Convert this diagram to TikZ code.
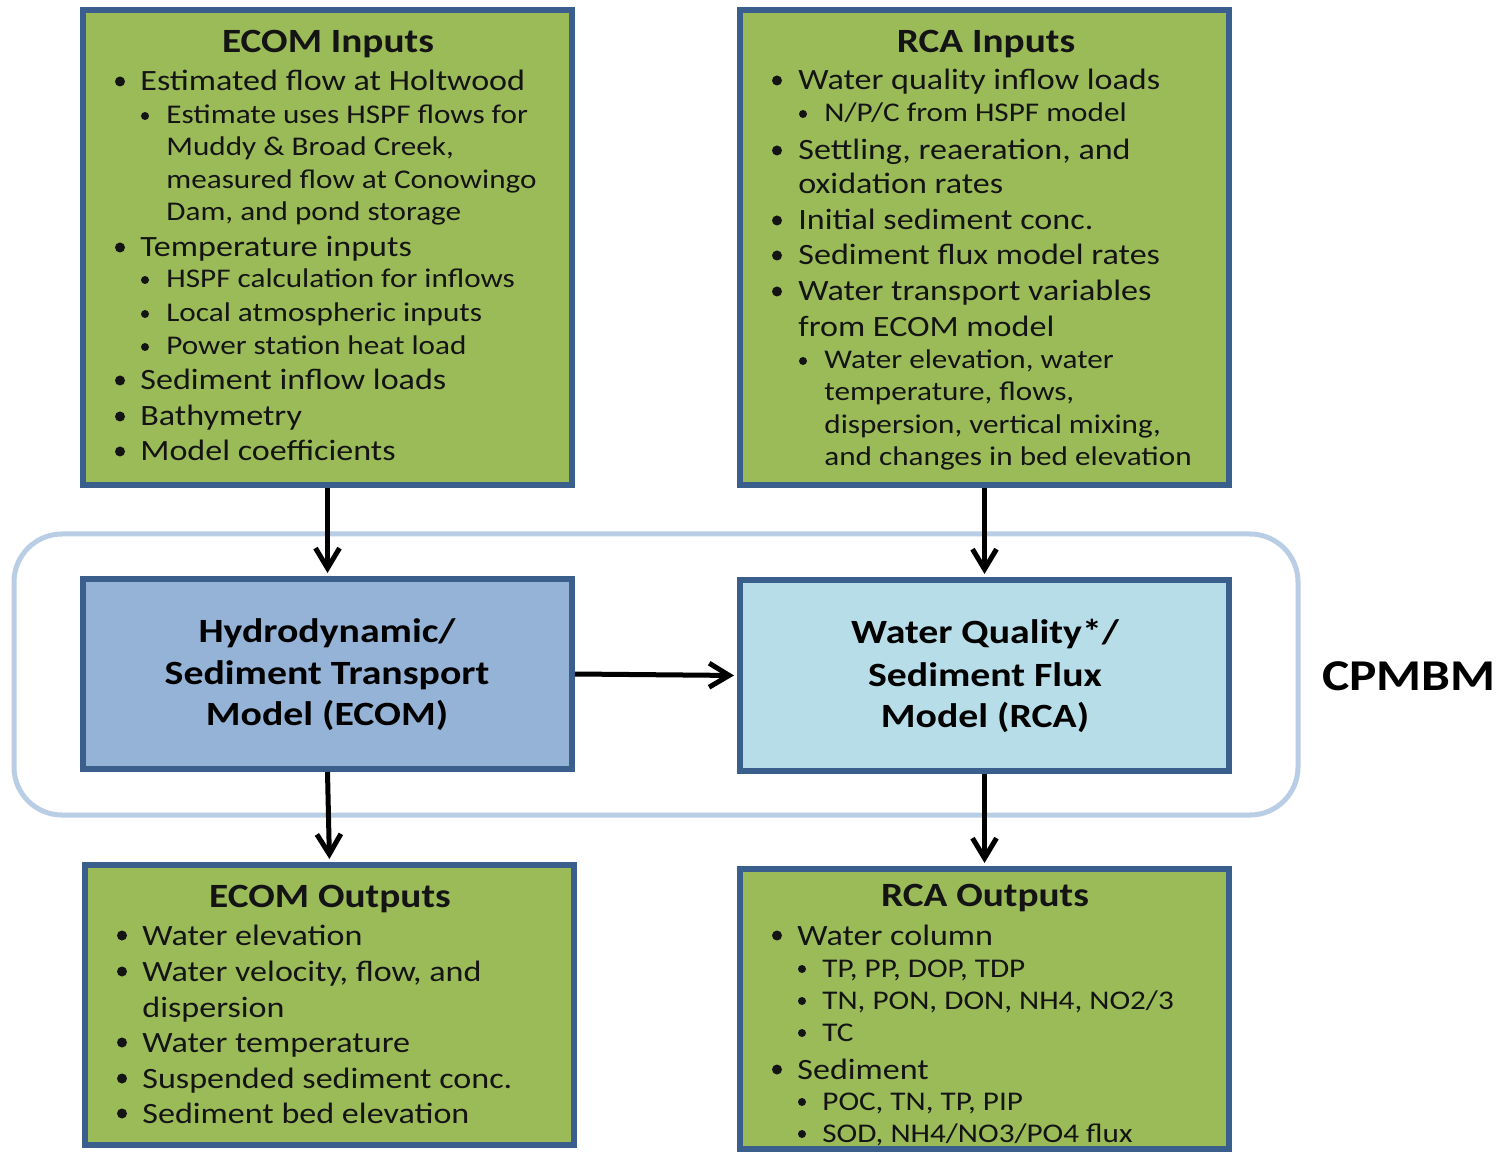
\documentclass[tikz,border=0pt]{standalone}
\usepackage{fontspec}
\setmainfont{Carlito}
\newfontfamily\boxfont[FakeStretch=1.155]{Carlito}
\newfontfamily\modelfont[FakeStretch=1.17]{Carlito}
\usetikzlibrary{arrows.meta}

\definecolor{boxgreen}{HTML}{9BBB59}
\definecolor{boxedge}{HTML}{3A5F8C}
\definecolor{hydrofill}{HTML}{95B3D7}
\definecolor{wqfill}{HTML}{B7DDE8}
\definecolor{ringblue}{HTML}{B9CDE5}
\definecolor{ink}{HTML}{141414}

% box by path corners (pixel units): name, style, x1, y1, x2, y2
\newcommand\pbox[6]{%
  \node[#2, minimum width={(#5-#3)*0.5pt}, minimum height={(#6-#4)*0.5pt}]
    (#1) at ({(#3+#5)/2},{(#4+#6)/2}) {};}
% bulleted line: level, name, bullet x, text x, baseline y, text
\newcommand\itm[6]{%
  \node[bul#1] (#2b) at (#3,#5) {};
  \node[txt#1] (#2) at (#4,#5) {#6};}

\tikzset{
  panel/.style={draw=boxedge, line width=3pt, inner sep=0pt},
  greenbox/.style={panel, fill=boxgreen},
  hydrobox/.style={panel, fill=hydrofill},
  wqbox/.style={panel, fill=wqfill},
  boxtitle/.style={font=\boxfont\bfseries\fontsize{17}{20}\selectfont, text=ink, inner sep=0pt, anchor=base},
  txtone/.style={font=\boxfont\fontsize{14.75}{17}\selectfont, text=ink, inner sep=0pt, anchor=base west},
  txttwo/.style={font=\boxfont\fontsize{13.5}{16}\selectfont, text=ink, inner sep=0pt, anchor=base west},
  dot/.style={circle, fill=ink, inner sep=0pt},
  bulone/.style={dot, minimum size=5pt, yshift=4.75pt},
  bultwo/.style={dot, minimum size=4pt, yshift=4pt},
  modeltext/.style={font=\modelfont\bfseries\fontsize{17}{20}\selectfont, text=black, inner sep=0pt, anchor=base},
  flow/.style={draw=black, line width=2.5pt, -{Straight Barb[length=10pt, width=12pt, line width=2.5pt]}, shorten >=1.5pt}
}

\begin{document}
\begin{tikzpicture}[x=0.5pt, y=-0.5pt]
\useasboundingbox (0,0) rectangle (1499,1154);
\fill[white] (0,0) rectangle (1499,1154);

% coupled model frame
\draw[ringblue, line width=2.5pt, rounded corners=24pt] (14,534) rectangle (1298,815);
\node[font=\modelfont\bfseries\fontsize{22}{26}\selectfont, text=black, inner sep=0pt, anchor=base] (cpmbm) at (1409,690) {CPMBM};

% boxes
\pbox{ecomin}{greenbox}{83}{10}{572}{485}
\pbox{rcain}{greenbox}{740}{10}{1229}{485}
\pbox{hydro}{hydrobox}{83}{579}{572}{769}
\pbox{wq}{wqbox}{740}{580}{1229}{771}
\pbox{ecomout}{greenbox}{85}{865}{574}{1145}
\pbox{rcaout}{greenbox}{740}{869}{1229}{1149}

% ECOM inputs
\node[boxtitle] (eintitle) at (328,53) {ECOM Inputs};
\itm{one}{ea}{120}{140}{91}{Estimated flow at Holtwood}
\itm{two}{eb}{145}{166}{124}{Estimate uses HSPF flows for}
\node[txttwo] (ebb) at (166,156) {Muddy \& Broad Creek,};
\node[txttwo] (ebc) at (166,189) {measured flow at Conowingo};
\node[txttwo] (ebd) at (166,221) {Dam, and pond storage};
\itm{one}{ec}{120}{140}{257}{Temperature inputs}
\itm{two}{ed}{145}{166}{288}{HSPF calculation for inflows}
\itm{two}{ee}{145}{166}{322}{Local atmospheric inputs}
\itm{two}{ef}{145}{166}{355}{Power station heat load}
\itm{one}{eg}{120}{140}{390}{Sediment inflow loads}
\itm{one}{eh}{120}{140}{426}{Bathymetry}
\itm{one}{ei}{120}{140}{461}{Model coefficients}

% RCA inputs
\node[boxtitle] (rintitle) at (986,53) {RCA Inputs};
\itm{one}{ra}{777}{798}{90}{Water quality inflow loads}
\itm{two}{rb}{803}{824}{122}{N/P/C from HSPF model}
\itm{one}{rc}{777}{798}{160}{Settling, reaeration, and}
\node[txtone] (rcb) at (798,194) {oxidation rates};
\itm{one}{rd}{777}{798}{230}{Initial sediment conc.}
\itm{one}{re}{777}{798}{265}{Sediment flux model rates}
\itm{one}{rf}{777}{798}{301}{Water transport variables}
\node[txtone] (rfb) at (798,337) {from ECOM model};
\itm{two}{rg}{803}{824}{369}{Water elevation, water}
\node[txttwo] (rgb) at (824,401) {temperature, flows,};
\node[txttwo] (rgc) at (824,434) {dispersion, vertical mixing,};
\node[txttwo] (rgd) at (824,466) {and changes in bed elevation};

% model boxes
\node[modeltext] (h1) at (327,642) {Hydrodynamic/};
\node[modeltext] (h2) at (327,684) {Sediment Transport};
\node[modeltext] (h3) at (327,725) {Model (ECOM)};
\node[modeltext] (w1) at (985,643) {Water Quality*/};
\node[modeltext] (w2) at (985,686) {Sediment Flux};
\node[modeltext] (w3) at (985,727) {Model (RCA)};

% ECOM outputs
\node[boxtitle] (eouttitle) at (330,907) {ECOM Outputs};
\itm{one}{oa}{122}{142}{945}{Water elevation}
\itm{one}{ob}{122}{142}{981}{Water velocity, flow, and}
\node[txtone] (obb) at (142,1017) {dispersion};
\itm{one}{oc}{122}{142}{1052}{Water temperature}
\itm{one}{od}{122}{142}{1088}{Suspended sediment conc.}
\itm{one}{oe}{122}{142}{1123}{Sediment bed elevation}

% RCA outputs
\node[boxtitle] (routtitle) at (985,906) {RCA Outputs};
\itm{one}{pa}{777}{797}{945}{Water column}
\itm{two}{pb}{802}{822}{977}{TP, PP, DOP, TDP}
\itm{two}{pc}{802}{822}{1009}{TN, PON, DON, NH4, NO2/3}
\itm{two}{pd}{802}{822}{1041}{TC}
\itm{one}{pe}{777}{797}{1079}{Sediment}
\itm{two}{pf}{802}{822}{1110}{POC, TN, TP, PIP}
\itm{two}{pg}{802}{822}{1142}{SOD, NH4/NO3/PO4 flux}

% connectors
\draw[flow] (ecomin.south) -- (hydro.north);
\draw[flow] (rcain.south) -- (wq.north);
\draw[flow] (hydro.east) -- (wq.west);
\draw[flow] (hydro.south) -- (ecomout.north);
\draw[flow] (wq.south) -- (rcaout.north);
\end{tikzpicture}
\end{document}
